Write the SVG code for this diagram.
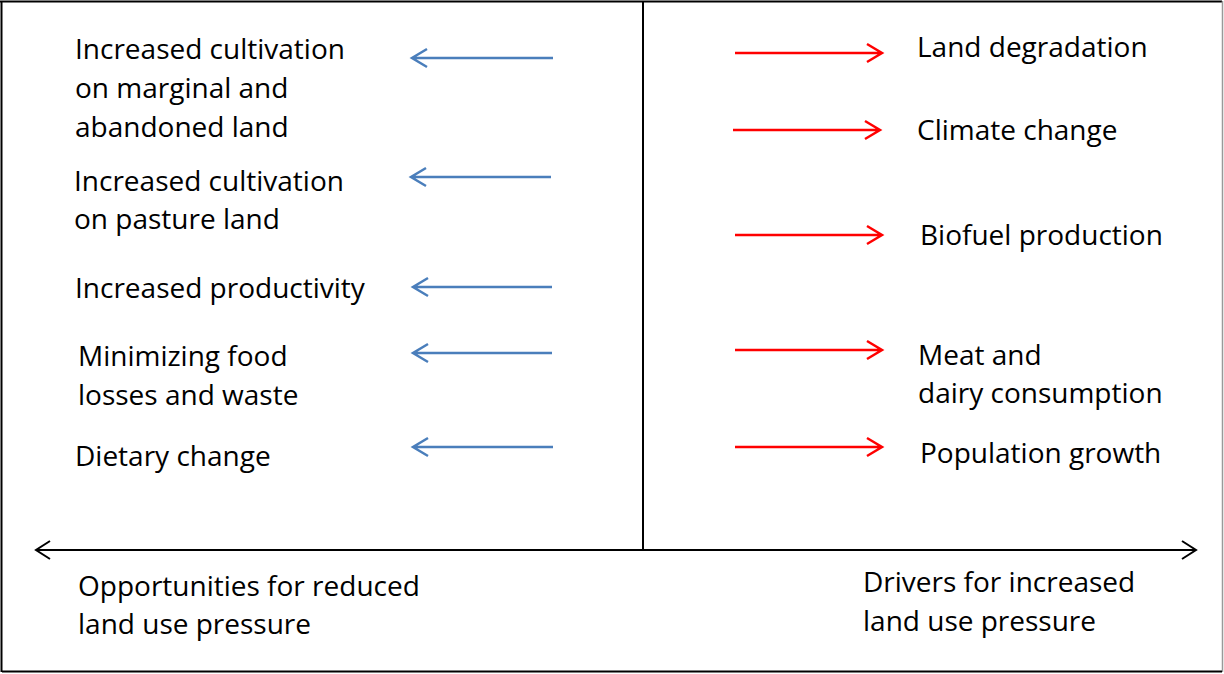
<svg xmlns="http://www.w3.org/2000/svg" width="1224" height="674" viewBox="0 0 1224 674">
<defs>
<style>
text{font-family:"Open Sans",Lato,"Liberation Sans",sans-serif;font-size:28px;fill:#000}
.blue{stroke:#4a7ebb;stroke-width:2.5;fill:none}
.red{stroke:#ff0000;stroke-width:2.5;fill:none}
.blk{stroke:#000;stroke-width:2;fill:none}
</style>
</defs>
<rect x="0" y="0" width="1224" height="674" fill="#fff"/>
<g id="frame">
<path d="M1.5 1 V672" class="blk" stroke-width="1.5"/>
<path d="M0 1.5 H1222" class="blk" stroke-width="1.5"/>
<path d="M1222.5 1 V672" stroke="#999" stroke-width="1.5"/>
<path d="M2 671.5 H1222" class="blk" stroke-width="3"/>
</g>
<g id="connectors">
<path d="M643 1 V550" class="blk"/>
<path d="M36 550 H1196 M50 541 L36 550 L50 559 M1182 541 L1196 550 L1182 559" class="blk"/>
<g class="blue">
<path d="M553 58 H412 M427 49 L412 58 L427 67"/>
<path d="M551 177 H411 M426 168 L411 177 L426 186"/>
<path d="M552 287 H413 M428 278 L413 287 L428 296"/>
<path d="M552 353 H413 M428 344 L413 353 L428 362"/>
<path d="M553 447 H413 M428 438 L413 447 L428 456"/>
</g>
<g class="red">
<path d="M735 53 H882 M867 44 L882 53 L867 62"/>
<path d="M733 130 H880 M865 121 L880 130 L865 139"/>
<path d="M735 235 H882 M867 226 L882 235 L867 244"/>
<path d="M735 350 H882 M867 341 L882 350 L867 359"/>
<path d="M735 447 H882 M867 438 L882 447 L867 456"/>
</g>
</g>
<g id="opp1"><text x="75" y="59">Increased cultivation</text><text x="75" y="98">on marginal and</text><text x="75" y="137">abandoned land</text></g>
<g id="opp2"><text x="74" y="191">Increased cultivation</text><text x="74" y="229">on pasture land</text></g>
<g id="opp3"><text x="75" y="298">Increased productivity</text></g>
<g id="opp4"><text x="78" y="366">Minimizing food</text><text x="78" y="405">losses and waste</text></g>
<g id="opp5"><text x="75" y="466">Dietary change</text></g>
<g id="drv1"><text x="917" y="57">Land degradation</text></g>
<g id="drv2"><text x="917" y="140">Climate change</text></g>
<g id="drv3"><text x="920" y="245">Biofuel production</text></g>
<g id="drv4"><text x="918" y="365">Meat and</text><text x="918" y="403">dairy consumption</text></g>
<g id="drv5"><text x="920" y="463">Population growth</text></g>
<g id="labelL"><text x="78" y="596">Opportunities for reduced</text><text x="78" y="634">land use pressure</text></g>
<g id="labelR"><text x="863" y="592">Drivers for increased</text><text x="863" y="631">land use pressure</text></g>
</svg>
